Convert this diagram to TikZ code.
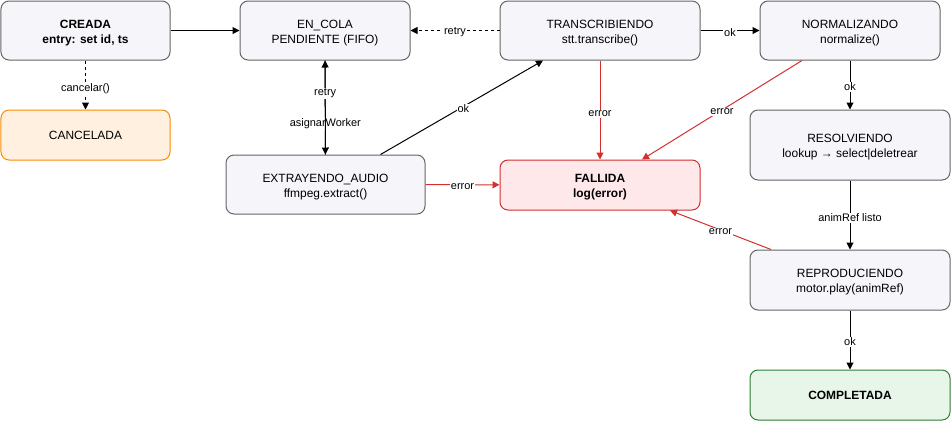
\documentclass[tikz,border=0pt]{standalone}
\usepackage{fontspec}
\setmainfont{Liberation Sans}
\usetikzlibrary{arrows.meta}
\definecolor{fondo}{HTML}{F5F5FA}
\definecolor{borde}{HTML}{666666}
\definecolor{fondoNar}{HTML}{FFF0DF}
\definecolor{bordeNar}{HTML}{FB8C00}
\definecolor{fondoRojo}{HTML}{FFE8EA}
\definecolor{bordeRojo}{HTML}{D32F2F}
\definecolor{fondoVerde}{HTML}{E8F5E9}
\definecolor{bordeVerde}{HTML}{2E7D32}
\newcommand{\letra}{\fontsize{12}{15}\selectfont}
\newcommand{\letrita}{\fontsize{11}{13}\selectfont}

\begin{document}
\begin{tikzpicture}[x=1bp,y=-1bp,line width=1bp,
  caja/.style={draw=borde,fill=fondo,rounded corners=8bp,align=center,
    inner sep=0pt,font=\letra,minimum width=#1},
  caja/.default=200bp,
  dos/.style={text height=28.1bp,text depth=2.5bp},
  cajaNar/.style={caja=169bp,draw=bordeNar,fill=fondoNar},
  cajaRoja/.style={caja,draw=bordeRojo,fill=fondoRojo},
  cajaVerde/.style={caja,draw=bordeVerde,fill=fondoVerde},
  flecha/.style={-{Triangle[length=7bp,width=7bp]}},
  falla/.style={flecha,draw=bordeRojo},
  etiq/.style={fill=white,font=\letrita,inner sep=1bp,text=black,yshift=-2bp}]

 \useasboundingbox (0,0) rectangle (951,421);

 \node[caja=169bp,dos,minimum height=59bp] (creada) at (85.5,30.5) {\textbf{CREADA}\\\textbf{entry: set id, ts}};
 \node[cajaNar,minimum height=50bp] (cancel) at (85.5,135) {CANCELADA};
 \node[caja=170bp,dos,minimum height=59bp] (cola) at (325,30.5) {EN\_COLA\\PENDIENTE (FIFO)};
 \node[caja=199bp,dos,minimum height=59bp] (extr) at (325.5,184.5) {EXTRAYENDO\_AUDIO\\ffmpeg.extract()};
 \node[caja,dos,minimum height=59bp] (trans) at (600,30.5) {TRANSCRIBIENDO\\stt.transcribe()};
 \node[cajaRoja,dos,minimum height=50bp] (fallida) at (600,185) {\textbf{FALLIDA}\\\textbf{log(error)}};
 \node[caja=180bp,dos,minimum height=59bp] (norm) at (850,30.5) {NORMALIZANDO\\normalize()};
 \node[caja,dos,minimum height=70bp] (resol) at (850,145) {RESOLVIENDO\\lookup → select|deletrear};
 \node[caja,dos,minimum height=60bp] (repro) at (850,280) {REPRODUCIENDO\\motor.play(animRef)};
 \node[cajaVerde,minimum height=50bp] (compl) at (850,395) {\textbf{COMPLETADA}};

 \draw[flecha] (creada) -- (cola);
 \draw[flecha,dash pattern=on 3bp off 3bp] (creada) -- node[etiq,pos=0.54]{cancelar()} (cancel);
 \draw[flecha,dash pattern=on 3bp off 3bp] (trans) -- node[etiq]{retry} (cola);
 \draw[flecha] (cola) -- node[etiq,pos=0.65]{asignarWorker} (extr);
 \draw[flecha] (extr) -- node[etiq,pos=0.67]{retry} (cola);
 \draw[flecha] ([xshift=55bp]extr.north) -- node[etiq,pos=0.51]{ok} ([xshift=-57bp]trans.south);
 \draw[falla] (extr) -- node[etiq]{error} (fallida);
 \draw[falla] (trans) -- node[etiq,pos=0.52]{error} (fallida);
 \draw[flecha] (trans) -- node[etiq]{ok} (norm);
 \draw[falla] ([xshift=-48bp]norm.south) -- node[etiq]{error} ([xshift=42bp]fallida.north);
 \draw[flecha] (norm) -- node[etiq]{ok} (resol);
 \draw[flecha] (resol) -- node[etiq,pos=0.51]{animRef listo} (repro);
 \draw[falla] ([xshift=-79bp]repro.north) -- node[etiq]{error} ([xshift=70bp]fallida.south);
 \draw[flecha] (repro) -- node[etiq]{ok} (compl);

\end{tikzpicture}
\end{document}
